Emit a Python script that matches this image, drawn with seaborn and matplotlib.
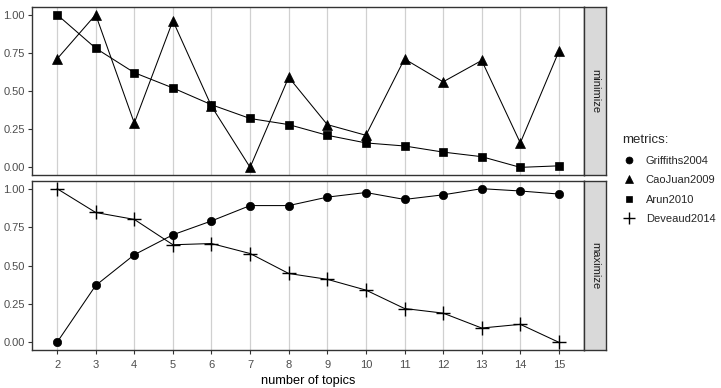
import numpy as np
import pandas as pd
import matplotlib
matplotlib.use("Agg")
import matplotlib.pyplot as plt
from matplotlib.lines import Line2D
import seaborn as sns

topics = list(range(2, 16))
caojuan2009 = [0.71, 1.00, 0.29, 0.96, 0.40, 0.00, 0.59, 0.28, 0.21, 0.71, 0.56, 0.70, 0.16, 0.76]
arun2010 = [1.00, 0.78, 0.62, 0.52, 0.41, 0.32, 0.28, 0.21, 0.16, 0.14, 0.10, 0.07, 0.00, 0.01]
griffiths2004 = [0.00, 0.37, 0.57, 0.70, 0.79, 0.89, 0.89, 0.945, 0.975, 0.93, 0.96, 1.00, 0.985, 0.965]
deveaud2014 = [1.00, 0.845, 0.80, 0.635, 0.643, 0.578, 0.448, 0.41, 0.34, 0.22, 0.19, 0.093, 0.117, 0.00]

metric_names = ["Griffiths2004", "CaoJuan2009", "Arun2010", "Deveaud2014"]
metric_group = {"Griffiths2004": "maximize", "CaoJuan2009": "minimize",
                "Arun2010": "minimize", "Deveaud2014": "maximize"}
series = {"Griffiths2004": griffiths2004, "CaoJuan2009": caojuan2009,
          "Arun2010": arun2010, "Deveaud2014": deveaud2014}
markers = {"Griffiths2004": "o", "CaoJuan2009": "^", "Arun2010": "s", "Deveaud2014": "+"}
msizes = {"Griffiths2004": 6.0, "CaoJuan2009": 6.5, "Arun2010": 6.0, "Deveaud2014": 10}
leg_sizes = {"Griffiths2004": 5.0, "CaoJuan2009": 5.5, "Arun2010": 5.0, "Deveaud2014": 9}

rows = []
for m in metric_names:
    for t, v in zip(topics, series[m]):
        rows.append({"topics": t, "value": v, "metric": m, "group": metric_group[m]})
df = pd.DataFrame(rows)

sns.set_theme(style="white")
plt.rcParams['font.family'] = ['Liberation Sans', 'DejaVu Sans']

W, H = 721, 388
fig = plt.figure(figsize=(W / 100, H / 100), dpi=100)

def fx(px):
    return px / W

def fy(py):
    return 1 - py / H

panels = [("minimize", 7, 175), ("maximize", 181, 350)]
left_px, right_px, strip_right = 32, 584, 606

for i, (grp, top, bot) in enumerate(panels):
    ax = fig.add_axes([fx(left_px), fy(bot), fx(right_px - left_px), (bot - top) / H])
    sub = df[df.group == grp]
    for m in metric_names:
        d = sub[sub.metric == m]
        if d.empty:
            continue
        sns.lineplot(data=d, x="topics", y="value", ax=ax, color="black",
                     linewidth=0.75, legend=False, zorder=3)
        ax.plot(d["topics"], d["value"], linestyle="none", marker=markers[m],
                markersize=msizes[m], color="black", markeredgewidth=1.0 if m == "Deveaud2014" else 0.5,
                zorder=4)
    ax.set_xlim(2 - 0.65, 15 + 0.65)
    ax.set_ylim(-0.05, 1.05)
    ax.set_xticks(topics)
    ax.set_yticks([0, 0.25, 0.5, 0.75, 1.0])
    ax.set_yticklabels(["0.00", "0.25", "0.50", "0.75", "1.00"])
    ax.grid(axis="x", color="#d0d0d0", linewidth=0.9)
    ax.grid(axis="y", visible=False)
    ax.set_axisbelow(True)
    for s in ax.spines.values():
        s.set_color("#333333")
        s.set_linewidth(1.0)
    ax.tick_params(axis="y", which="both", left=True, length=3, width=0.8, color="#333333",
                   labelsize=8, labelcolor="#4d4d4d", pad=2)
    ax.set_ylabel("")
    if i == 0:
        ax.tick_params(axis="x", bottom=False, labelbottom=False)
        ax.set_xlabel("")
    else:
        ax.tick_params(axis="x", bottom=True, length=3, width=0.8, color="#333333",
                       labelsize=8, labelcolor="#4d4d4d", pad=4.5)
        ax.set_xlabel("number of topics", fontsize=9.2, color="black", labelpad=3)

    sax = fig.add_axes([fx(right_px), fy(bot), fx(strip_right - right_px), (bot - top) / H])
    sax.set_facecolor("#d9d9d9")
    sax.set_xticks([])
    sax.set_yticks([])
    for s in sax.spines.values():
        s.set_color("#333333")
        s.set_linewidth(1.0)
    sax.text(0.5, 0.5, grp, rotation=-90, ha="center", va="center",
             fontsize=8, color="#1a1a1a", transform=sax.transAxes)

handles = [Line2D([], [], linestyle="none", marker=markers[m], markersize=leg_sizes[m],
                  color="black", markeredgewidth=1.0 if m == "Deveaud2014" else 0.5)
           for m in metric_names]
leg = fig.legend(handles, metric_names, title="metrics:", loc="upper left",
                 bbox_to_anchor=(fx(618), fy(130)), frameon=False, fontsize=8,
                 title_fontsize=9.5, handlelength=1.2, handletextpad=0.9,
                 labelspacing=0.85, borderaxespad=0)
leg._legend_box.align = "left"

fig.savefig("out.png", dpi=100)
